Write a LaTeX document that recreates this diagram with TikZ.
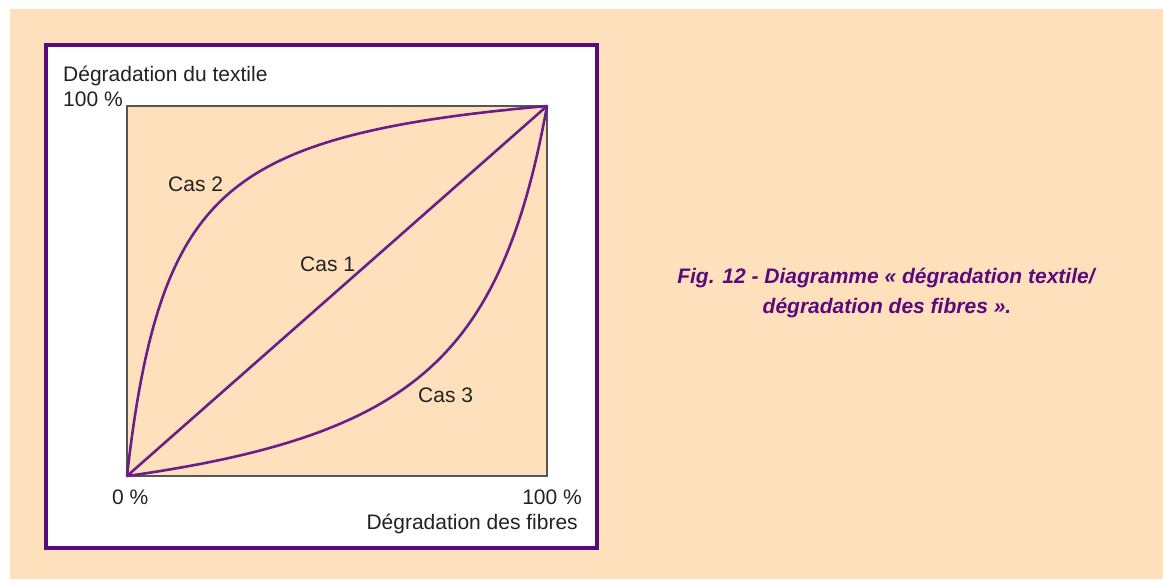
\documentclass[tikz,border=0pt]{standalone}
\usepackage{fontspec}
\setmainfont{Liberation Sans}
\definecolor{peach}{HTML}{FEE1BC}
\definecolor{framepurple}{HTML}{5A0A7C}
\definecolor{curvepurple}{HTML}{6A1E88}
\definecolor{txt}{HTML}{222222}
\definecolor{boxedge}{HTML}{555555}
\tikzset{
  lbl/.style={inner sep=0pt, text=txt, font=\fontsize{21}{25}\selectfont},
  curve/.style={draw=curvepurple, line width=2.6pt, line join=round},
  caption/.style={inner sep=0pt, text=framepurple, font=\fontsize{21}{25}\selectfont\bfseries\itshape}
}
\begin{document}
\begin{tikzpicture}[x=1pt,y=-1pt]
\useasboundingbox (0,0) rectangle (1163,579);
\fill[white] (0,0) rectangle (1163,579);
\fill[peach] (10,9) rectangle (1163,579);
% frame
\draw[framepurple, line width=3.2pt, fill=white] (46,45) rectangle (597,548);
% plot box
\draw[boxedge, line width=1.3pt, fill=peach] (127,476) rectangle (547,106);
\coordinate (O) at (127,476);
\coordinate (T) at (547,106);
% curves
\draw[curve] (O) -- (T);
\draw[curve] (O) -- plot[smooth, domain=0:1, samples=120, variable=\t]
  ({127+420*\t*\t}, {476-370*(\t*\t*1.11/(\t*\t+0.11))}) -- (T);
\draw[curve] (O) -- plot[smooth, domain=0:1, samples=120, variable=\t]
  ({127+420*(1-(1-\t)*(1-\t))}, {476-370*(0.19*(1-(1-\t)*(1-\t))/(1.19-(1-(1-\t)*(1-\t))))}) -- (T);
% labels
\node[lbl, anchor=base west] (ylab) at (63,81) {Dégradation du textile};
\node[lbl, anchor=base west] (y100) at (63,106) {100 \%};
\node[lbl, anchor=base west] (x0) at (112,504) {0 \%};
\node[lbl, anchor=base east] (x100) at (582,504) {100 \%};
\node[lbl, anchor=base east] (xlab) at (578,529) {Dégradation des fibres};
\node[lbl, anchor=base west] (cas2) at (168,191) {Cas 2};
\node[lbl, anchor=base west] (cas1) at (300,271) {Cas 1};
\node[lbl, anchor=base west] (cas3) at (418,402) {Cas 3};
% caption
\node[caption, anchor=base] (cap1) at (886,283) {Fig. 12 - Diagramme « dégradation textile/};
\node[caption, anchor=base] (cap2) at (887,313) {dégradation des fibres ».};
\end{tikzpicture}
\end{document}
